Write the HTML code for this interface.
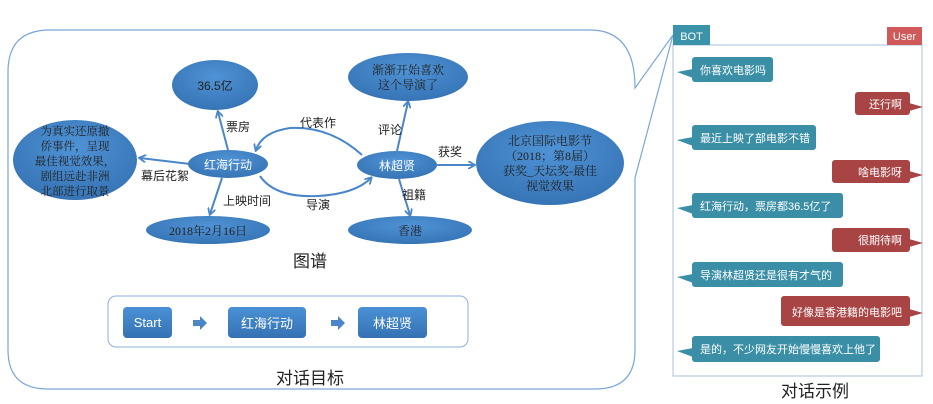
<!DOCTYPE html>
<html><head><meta charset="utf-8"><style>
html,body{margin:0;padding:0;background:#fff;}
svg{display:block;font-family:"Liberation Sans","Noto Sans CJK SC",sans-serif;}
.serif{font-family:"Liberation Serif","Noto Serif CJK SC",serif;}
</style></head><body>
<svg width="933" height="404" viewBox="0 0 933 404" xmlns="http://www.w3.org/2000/svg">
<defs>
<radialGradient id="eg" cx="50%" cy="35%" r="65%">
<stop offset="0" stop-color="#4f93d6"/><stop offset="1" stop-color="#3674b5"/>
</radialGradient>
<linearGradient id="bg" x1="0" y1="0" x2="0" y2="1">
<stop offset="0" stop-color="#4a90d6"/><stop offset="1" stop-color="#3572b3"/>
</linearGradient>
<marker id="ar" markerWidth="8" markerHeight="8" refX="6" refY="4" orient="auto" markerUnits="userSpaceOnUse">
<path d="M0,0 L7,4 L0,8" fill="none" stroke="#4a86c8" stroke-width="1.8"/>
</marker>
</defs>
<path d="M50,30 L590,30 Q635,30 635,88 L673,35 L635,178 L635,350 Q635,389 595,389 L48,389 Q8,389 8,350 L8,72 Q8,30 50,30 Z" fill="#fff" stroke="#7aa6d8" stroke-width="1.2"/>
<g stroke="#4a86c8" stroke-width="2" fill="none" marker-end="url(#ar)">
<line x1="228" y1="150" x2="218" y2="112"/>
<line x1="190" y1="164" x2="140" y2="158"/>
<line x1="222" y1="178" x2="210" y2="214"/>
<path d="M362,155 Q330,126 290,128 Q262,132 256,150"/>
<path d="M260,176 Q275,198 318,196 Q355,194 371,178"/>
<line x1="397" y1="151" x2="408" y2="102"/>
<line x1="437" y1="165" x2="474" y2="165"/>
<line x1="399" y1="179" x2="410" y2="215"/>
</g>
<g fill="url(#eg)">
<ellipse cx="215" cy="85" rx="43" ry="25"/>
<ellipse cx="75" cy="160" rx="62" ry="40"/>
<ellipse cx="228" cy="164" rx="40" ry="14"/>
<ellipse cx="208" cy="230" rx="62" ry="14"/>
<ellipse cx="408" cy="77" rx="60" ry="24"/>
<ellipse cx="397" cy="165" rx="40" ry="14"/>
<ellipse cx="550" cy="163" rx="74" ry="42"/>
<ellipse cx="410" cy="230" rx="62" ry="14"/>
</g>
<g font-size="12" text-anchor="middle">
<text x="215" y="90" fill="#222">36.5亿</text>
<text x="228" y="169" fill="#fff">红海行动</text>
<text x="397" y="170" fill="#fff">林超贤</text>
</g>
<g class="serif" font-size="12" text-anchor="middle" fill="#222">
<text x="75" y="135" font-size="11.5">为真实还原撤</text>
<text x="75" y="150" font-size="11.5">侨事件，呈现</text>
<text x="75" y="165" font-size="11.5">最佳视觉效果，</text>
<text x="75" y="180" font-size="11.5">剧组远赴非洲</text>
<text x="75" y="195" font-size="11.5">北部进行取景</text>
<text x="208" y="235">2018年2月16日</text>
<text x="408" y="74">渐渐开始喜欢</text>
<text x="408" y="89">这个导演了</text>
<text x="550" y="145">北京国际电影节</text>
<text x="550" y="160">（2018；第8届）</text>
<text x="550" y="175">获奖_天坛奖-最佳</text>
<text x="550" y="190">视觉效果</text>
<text x="410" y="235">香港</text>
</g>
<g font-size="12" fill="#222" text-anchor="middle">
<text x="238" y="131">票房</text>
<text x="318" y="127">代表作</text>
<text x="390" y="134">评论</text>
<text x="450" y="156">获奖</text>
<text x="165" y="180">幕后花絮</text>
<text x="247" y="205">上映时间</text>
<text x="318" y="209">导演</text>
<text x="414" y="199">祖籍</text>
<text x="310" y="267" font-size="17">图谱</text>
<text x="310" y="384" font-size="17">对话目标</text>
</g>
<rect x="108" y="296" width="360" height="51" rx="8" fill="#fff" stroke="#8fb0dc" stroke-width="1"/>
<g fill="url(#bg)">
<rect x="123" y="307" width="49" height="31" rx="4"/>
<rect x="228" y="307" width="78" height="31" rx="4"/>
<rect x="358" y="307" width="69" height="31" rx="4"/>
</g>
<g fill="#4a86c8">
<path d="M193,320 h7 v-4 l7,7 l-7,7 v-4 h-7 z"/>
<path d="M331,320 h7 v-4 l7,7 l-7,7 v-4 h-7 z"/>
</g>
<g font-size="13" fill="#fff" text-anchor="middle">
<text x="147.5" y="327">Start</text>
<text x="267" y="328">红海行动</text>
<text x="392.5" y="328">林超贤</text>
</g>
<rect x="673" y="45" width="249" height="331" fill="#fff" stroke="#a9c0e0" stroke-width="1"/>
<rect x="673" y="25" width="37" height="20" fill="#3a93a9"/>
<text x="691.5" y="40" font-size="11" fill="#fff" text-anchor="middle">BOT</text>
<rect x="887" y="27" width="35" height="18" fill="#d05a5a"/>
<text x="904.5" y="40" font-size="11" fill="#fff" text-anchor="middle">User</text>
<g font-size="11" fill="#fff">
<g fill="#3a8fa6">
<rect x="692" y="57" width="81" height="25" rx="3"/><path d="M693,69 L677,72 L693,78z"/>
<rect x="692" y="125" width="124" height="25" rx="3"/><path d="M693,137 L677,140 L693,146z"/>
<rect x="692" y="193" width="151" height="25" rx="3"/><path d="M693,205 L677,208 L693,214z"/>
<rect x="692" y="262" width="151" height="25" rx="3"/><path d="M693,274 L677,277 L693,283z"/>
<rect x="692" y="336" width="188" height="26" rx="3"/><path d="M693,348 L677,351 L693,357z"/>
</g>
<g fill="#a84444">
<rect x="855" y="92" width="55" height="23" rx="3"/><path d="M909,103 L923,107 L909,111z"/>
<rect x="832" y="160" width="78" height="23" rx="3"/><path d="M909,171 L923,175 L909,179z"/>
<rect x="832" y="228" width="78" height="24" rx="3"/><path d="M909,239 L923,243 L909,247z"/>
<rect x="781" y="296" width="129" height="30" rx="3"/><path d="M909,309 L923,313 L909,317z"/>
</g>
<text x="700" y="74">你喜欢电影吗</text>
<text x="700" y="142">最近上映了部电影不错</text>
<text x="700" y="210">红海行动，票房都36.5亿了</text>
<text x="700" y="279">导演林超贤还是很有才气的</text>
<text x="700" y="353">是的，不少网友开始慢慢喜欢上他了</text>
<g text-anchor="end">
<text x="902" y="108">还行啊</text>
<text x="902" y="176">啥电影呀</text>
<text x="902" y="244">很期待啊</text>
<text x="902" y="316">好像是香港籍的电影吧</text>
</g>
</g>
<text x="815" y="397" font-size="17" fill="#222" text-anchor="middle">对话示例</text>
</svg>
</body></html>
